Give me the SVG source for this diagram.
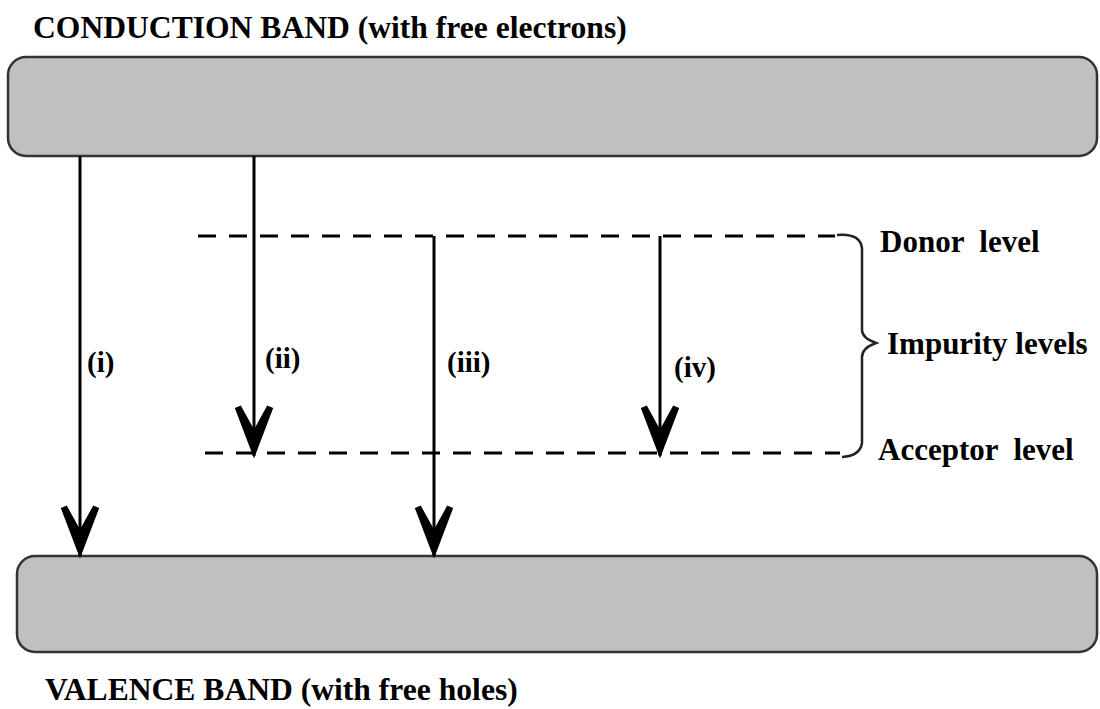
<svg xmlns="http://www.w3.org/2000/svg" width="1100" height="709" viewBox="0 0 1100 709">
<style>
.band{fill:#c0c0c0;stroke:#333;stroke-width:2.5}
.t{font-family:"Liberation Serif","Times New Roman",serif;font-weight:bold;fill:#000}
.big{font-size:31.6px}
.lbl{font-size:29px}
.lvl{font-size:31px}
.dash{stroke:#000;stroke-width:3;stroke-dasharray:18 13;fill:none}
.arr{stroke:#000;stroke-width:3;fill:none;marker-end:url(#ah)}
.brace{stroke:#222;stroke-width:2.5;fill:none}
</style>
<defs>
<marker id="ah" markerUnits="userSpaceOnUse" orient="auto" refX="0" refY="0" markerWidth="60" markerHeight="60" viewBox="-45 -20 50 40" overflow="visible">
<path d="M2,0 L-40,-16 L-42,-11 L-22,0 L-42,11 L-40,16 Z" fill="#000"/>
</marker>
</defs>
<g id="conduction-band">
<rect class="band" x="8" y="57" width="1089" height="99" rx="18"/>
<text class="t big" x="33" y="38">CONDUCTION BAND (with free electrons)</text>
</g>
<g id="valence-band">
<rect class="band" x="17" y="556" width="1080" height="96" rx="18"/>
<text class="t big" x="45" y="700">VALENCE BAND (with free holes)</text>
</g>
<g id="donor-level">
<line class="dash" x1="198" y1="236" x2="835" y2="236"/>
<text class="t lvl" x="880" y="252" xml:space="preserve">Donor  level</text>
</g>
<g id="acceptor-level">
<line class="dash" x1="205" y1="453" x2="840" y2="453"/>
<text class="t lvl" x="878" y="460" xml:space="preserve">Acceptor  level</text>
</g>
<g id="impurity-levels">
<path class="brace" d="M837,235 Q860,233 862,248 L862,330 Q862,338 876,343 Q862,348 862,357 L862,443 Q860,456 842,457"/>
<text class="t lvl" x="887" y="354">Impurity levels</text>
</g>
<g id="connectors">
<line class="arr" x1="80" y1="156" x2="80" y2="556"/>
<line class="arr" x1="254" y1="156" x2="254" y2="456"/>
<line class="arr" x1="434" y1="236" x2="434" y2="556"/>
<line class="arr" x1="660" y1="236" x2="660" y2="456"/>
<text class="t lbl" x="87" y="372">(i)</text>
<text class="t lbl" x="265" y="368">(ii)</text>
<text class="t lbl" x="447" y="372">(iii)</text>
<text class="t lbl" x="674" y="377">(iv)</text>
</g>
</svg>
